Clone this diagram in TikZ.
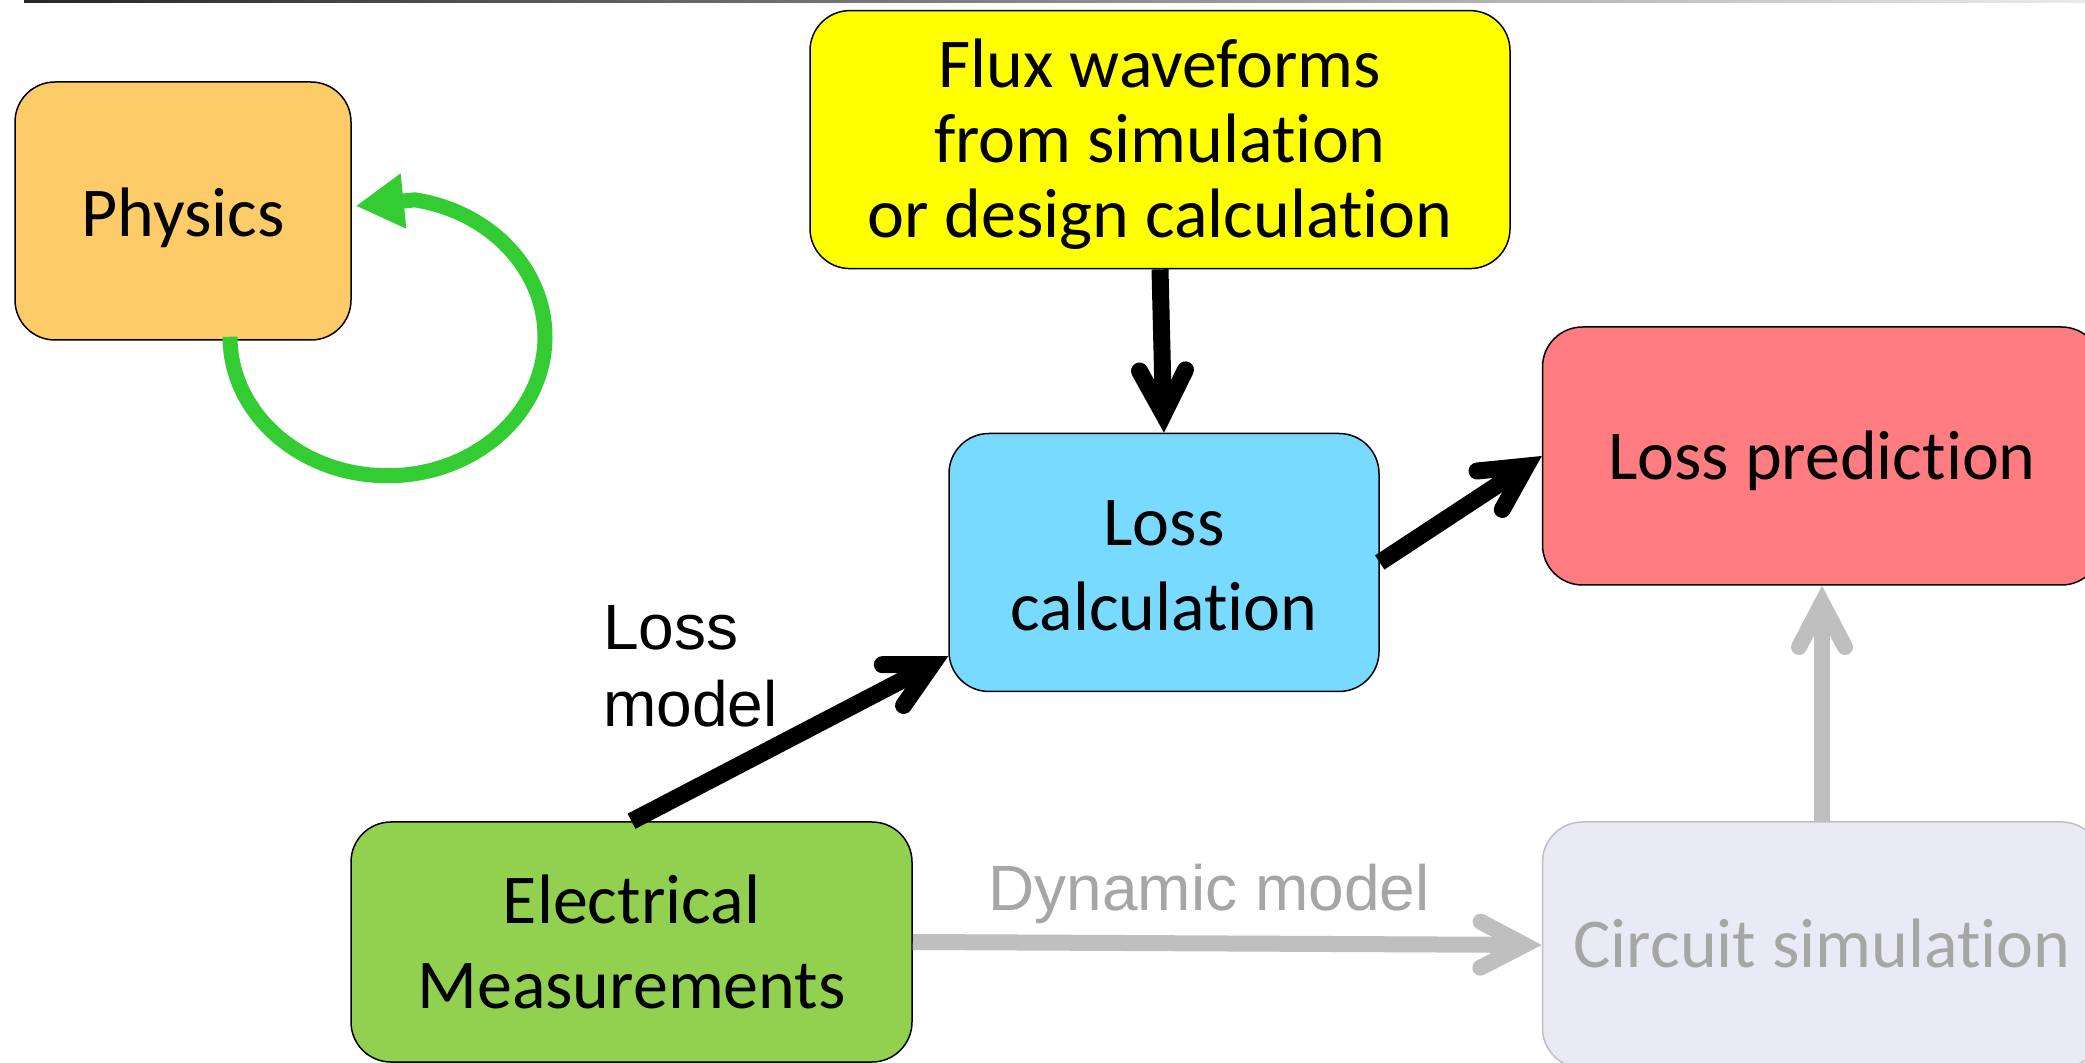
\documentclass[tikz,border=0pt]{standalone}
\usepackage{fontspec}
\setmainfont{Carlito}[Ligatures=NoCommon]
\newfontfamily\arialfont{Liberation Sans}
\newcommand\tisep{t\kern0pt i}
\usetikzlibrary{arrows.meta,calc}
\definecolor{physc}{RGB}{254,203,105}
\definecolor{fluxc}{RGB}{255,255,0}
\definecolor{calcc}{RGB}{120,218,255}
\definecolor{predc}{RGB}{255,124,128}
\definecolor{measc}{RGB}{146,208,80}
\definecolor{circc}{RGB}{234,234,247}
\definecolor{loopc}{RGB}{51,204,51}
\definecolor{greyarrow}{RGB}{191,191,191}
\definecolor{greytext}{RGB}{166,166,166}
\tikzset{
  box/.style={draw=black,line width=0.75pt,rounded corners=20pt,inner sep=0pt},
  boxtext/.style={inner sep=0pt,align=center,font=\fontsize{35}{37.5}\selectfont},
  barb/.tip={Straight Barb[length=22pt,width=23pt,line cap=round,line join=miter]},
  blackarrow/.style={line width=8.5pt,draw=black,-{barb}},
  greyarr/.style={line width=8pt,draw=greyarrow,-{barb}},
  looparrow/.style={line width=7.5pt,draw=loopc,-{Triangle[length=24pt,width=26pt]}},
  lbl/.style={font=\arialfont\fontsize{32}{38.5}\selectfont,inner sep=0pt}
}
\begin{document}
\begin{tikzpicture}[x=0.5pt,y=-0.5pt]
\useasboundingbox (0,0) rectangle (2085,1063);
\clip (0,0) rectangle (2085,1063);
\shade[left color=black!85,right color=black!8] (24,0) rectangle (2085,2.5);

\node[box,fill=physc,minimum width=168pt,minimum height=129pt,
  label={[boxtext,yshift=-3.5pt]center:Physics}] (phys) at (183,211) {};
\node[box,fill=fluxc,minimum width=350pt,minimum height=129pt,
  label={[boxtext,yshift=-2.5pt]center:{Flux waveforms\\from simula\tisep on\\or design calcula\tisep on}}] (flux) at (1160,139.6) {};
\node[box,fill=calcc,minimum width=215pt,minimum height=129pt,
  label={[boxtext,font=\fontsize{35}{42.5}\selectfont,yshift=-1.7pt]center:{Loss\\calcula\tisep on}}] (calc) at (1164,562.5) {};
\node[box,fill=predc,minimum width=279.5pt,minimum height=129pt,
  label={[boxtext,yshift=-2.5pt]center:Loss predic\tisep on}] (pred) at (1822,456) {};
\node[box,draw=greyarrow,fill=circc,minimum width=279.5pt,minimum height=123pt,
  label={[boxtext,text=greytext,yshift=1pt]center:Circuit simula\tisep on}] (circ) at (1822,945) {};
\node[box,fill=measc,minimum width=280.5pt,minimum height=120pt,
  label={[boxtext,font=\fontsize{35}{42.5}\selectfont]center:{Electrical\\Measurements}}] (meas) at (631.5,942) {};

\node[lbl,anchor=west,align=left] (lossmodel) at (603,666) {Loss\\model};
\node[lbl,text=greytext] (dynmodel) at (1209,894) {Dynamic model};

\draw[blackarrow] (flux.south) -- (calc.north);
\draw[blackarrow] (calc.east) -- (pred.west);
\draw[blackarrow] (meas.north) -- ($(calc.south west)+(0,-36)$);
\draw[greyarr] (meas.east) -- (circ.west);
\draw[greyarr] (circ.north) -- (pred.south);
\draw[looparrow] ([xshift=23.5pt,yshift=2pt]phys.south)
  arc[start angle=180,end angle=440,x radius=78.75pt,y radius=69.5pt]
  -- ([xshift=2pt,yshift=2.5pt]phys.east);
\end{tikzpicture}
\end{document}
